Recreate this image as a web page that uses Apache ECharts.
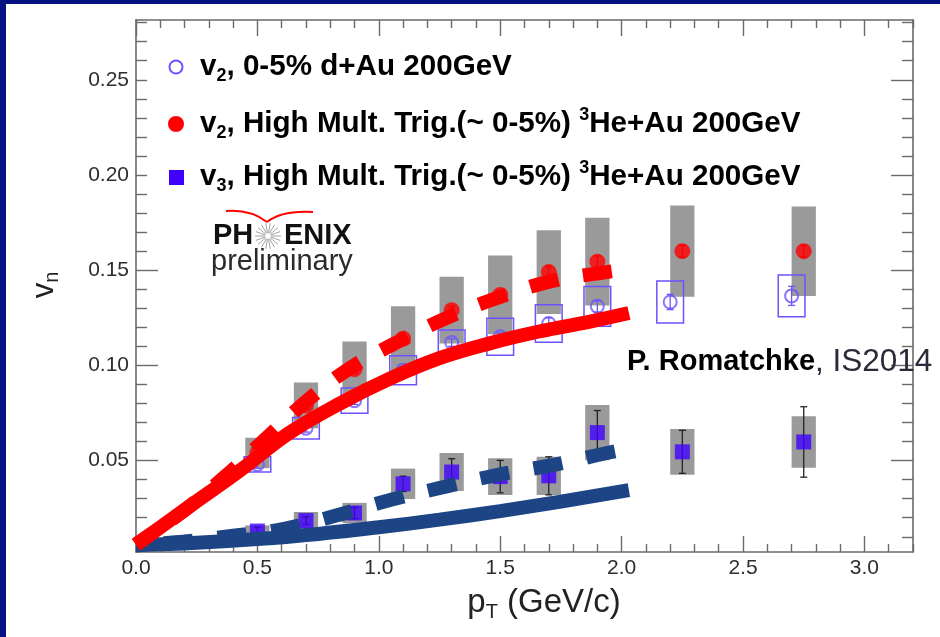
<!DOCTYPE html>
<html>
<head>
<meta charset="utf-8">
<script src="https://cdn.jsdelivr.net/npm/echarts@6/dist/echarts.min.js"></script>
<style>
  html, body { margin: 0; padding: 0; background: #ffffff; }
  #chart { position: absolute; left: 0; top: 0; width: 940px; height: 637px; }
  .edge { position: absolute; background: #061182; }
</style>
</head>
<body>
<div id="chart"></div>
<div class="edge" style="left:0;top:0;width:6px;height:637px"></div>
<div class="edge" style="left:0;top:0;width:940px;height:4px"></div>
<script>
// ---- measured flow coefficients ----
// d+Au 0-5%, v2
const ptDAu     = [0.5, 0.7, 0.9, 1.1, 1.3, 1.5, 1.7, 1.9, 2.2, 2.7];
const v2DAu     = [0.048, 0.067, 0.0815, 0.0975, 0.112, 0.115, 0.122, 0.131, 0.1333, 0.1365];
const v2DAuStat = [0.002, 0.002, 0.002, 0.002, 0.002, 0.002, 0.003, 0.003, 0.004, 0.005];
const v2DAuSys  = [0.004, 0.0057, 0.0066, 0.0076, 0.0066, 0.0097, 0.0098, 0.0105, 0.011, 0.011];

// 3He+Au high multiplicity trigger
const ptHeAu     = [0.5, 0.7, 0.9, 1.1, 1.3, 1.5, 1.7, 1.9, 2.25, 2.75];
const v2HeAu     = [0.054, 0.079, 0.098, 0.114, 0.129, 0.137, 0.149, 0.1545, 0.160, 0.160];
const v2HeAuStat = [0.002, 0.002, 0.002, 0.002, 0.002, 0.002, 0.003, 0.003, 0.003, 0.003];
const v2HeAuSys  = [0.008, 0.012, 0.0145, 0.017, 0.0175, 0.0207, 0.022, 0.023, 0.024, 0.0235];
const v3HeAu     = [0.013, 0.0185, 0.0225, 0.0378, 0.044, 0.0416, 0.042, 0.0647, 0.0546, 0.0598];
const v3HeAuStat = [0.002, 0.002, 0.003, 0.004, 0.007, 0.0085, 0.010, 0.0116, 0.0113, 0.0185];
const v3HeAuSys  = [0.003, 0.0045, 0.0053, 0.008, 0.010, 0.0097, 0.010, 0.0145, 0.012, 0.0135];

// ---- hydrodynamic calculations ----
const v2CalcAPt = [0, 0.22, 0.43, 0.63, 0.84, 1.05, 1.25, 1.46, 1.66, 1.87, 2.03];
const v2CalcA   = [0.0058, 0.0259, 0.045, 0.0644, 0.080, 0.0933, 0.1038, 0.1117, 0.1178, 0.123, 0.1275];
const v2CalcBPt = [0, 0.2, 0.37, 0.53, 0.7, 0.88, 1.08, 1.28, 1.5, 1.72, 1.94, 2.0];
const v2CalcB   = [0.006, 0.024, 0.042, 0.061, 0.081, 0.0985, 0.1125, 0.125, 0.136, 0.1445, 0.149, 0.150];
const v3CalcAPt = [0, 0.25, 0.5, 0.75, 1.0, 1.25, 1.5, 1.75, 2.03];
const v3CalcA   = [0.0055, 0.0068, 0.0088, 0.0115, 0.015, 0.019, 0.0235, 0.0285, 0.0345];
const v3CalcBPt = [0, 0.2, 0.4, 0.61, 0.835, 1.05, 1.27, 1.49, 1.72, 1.94, 2.0];
const v3CalcB   = [0.0055, 0.0075, 0.0105, 0.0142, 0.0215, 0.0294, 0.0362, 0.0425, 0.0478, 0.054, 0.0555];

// ---- axis ticks ----
const xTickLabels = [0, 0.5, 1.0, 1.5, 2.0, 2.5, 3.0];
const yTickLabels = [0.05, 0.10, 0.15, 0.20, 0.25];

const FONT = '"Liberation Sans", Arial, Helvetica, sans-serif';
const X_MIN = 0, X_MAX = 3.2, Y_MIN = 0.002, Y_MAX = 0.2814;

function steps(from, to, step) {
  const out = [];
  for (let i = Math.round(from / step); i * step <= to + 1e-9; i++) out.push(Math.round(i * step * 1000) / 1000);
  return out;
}
const near = (list) => (v) => list.some((t) => Math.abs(t - v) < 1e-6);
const xMinor = steps(0, 3.2, 0.1).filter((v) => !near(xTickLabels)(v));
const yAll = steps(0.01, 0.28, 0.01);
const yMinor = yAll.filter((v) => !near(yTickLabels)(v));
const yLeftLong = [0.05, 0.10, 0.15];
const yLeftShort = yAll.filter((v) => !near(yLeftLong)(v));

const lineCol = '#6a6a6a';
const tickStyle = { color: lineCol, width: 1.4 };

function xAxisDef(position, ticks, len, withLine, withLabels) {
  return {
    type: 'value', gridIndex: 0, position, min: X_MIN, max: X_MAX,
    axisLine: { show: withLine, onZero: false, lineStyle: { color: lineCol, width: 1.6 } },
    axisTick: { show: true, inside: true, length: len, customValues: ticks, lineStyle: tickStyle },
    axisLabel: withLabels
      ? { show: true, customValues: xTickLabels, formatter: (v) => v.toFixed(1), margin: 6,
          fontSize: 21, fontFamily: FONT, color: '#2e2e2e' }
      : { show: false },
    splitLine: { show: false }, minorTick: { show: false }
  };
}
function yAxisDef(position, ticks, len, withLine, withLabels) {
  return {
    type: 'value', gridIndex: 0, position, min: Y_MIN, max: Y_MAX,
    axisLine: { show: withLine, onZero: false, lineStyle: { color: lineCol, width: 1.6 } },
    axisTick: { show: true, inside: true, length: len, customValues: ticks, lineStyle: tickStyle },
    axisLabel: withLabels
      ? { show: true, customValues: yTickLabels, formatter: (v) => v.toFixed(2), margin: 7,
          fontSize: 21, fontFamily: FONT, color: '#2e2e2e' }
      : { show: false },
    splitLine: { show: false }, minorTick: { show: false }
  };
}

const zip = (xs, ...cols) => xs.map((x, i) => [x, ...cols.map((c) => c[i])]);

// systematic-uncertainty box around each point
function boxItem(halfWidth, style) {
  return function (params, api) {
    const p = api.value(0), v = api.value(1), s = api.value(2);
    const a = api.coord([p - halfWidth, v + s]);
    const b = api.coord([p + halfWidth, v - s]);
    return { type: 'rect', shape: { x: a[0], y: a[1], width: b[0] - a[0], height: b[1] - a[1] },
             style: Object.assign({}, style) };
  };
}
// statistical error bar with small caps
function errItem(color) {
  return function (params, api) {
    const p = api.value(0), v = api.value(1), e = api.value(2);
    const hi = api.coord([p, v + e]);
    const lo = api.coord([p, v - e]);
    const st = { stroke: color, lineWidth: 1.3 };
    return { type: 'group', children: [
      { type: 'line', shape: { x1: hi[0], y1: hi[1], x2: lo[0], y2: lo[1] }, style: st },
      { type: 'line', shape: { x1: hi[0] - 3.5, y1: hi[1], x2: hi[0] + 3.5, y2: hi[1] }, style: st },
      { type: 'line', shape: { x1: lo[0] - 3.5, y1: lo[1], x2: lo[0] + 3.5, y2: lo[1] }, style: st }
    ] };
  };
}

const RED = '#ff0000', NAVY = '#1d4585', VIOLET = '#4000ff', OPEN = '#6b52ff', GREY = '#9a9a9a';

function curve(pts, vals, color, dash, offset, z) {
  return {
    type: 'line', data: zip(pts, vals), smooth: 0.4, showSymbol: false, symbol: 'none',
    z, silent: true, clip: true,
    lineStyle: { color, width: 14, type: dash || 'solid', dashOffset: offset || 0, cap: 'butt' }
  };
}

// rich-text helpers
const rs = (size, weight, extra) => Object.assign({ fontSize: size, fontFamily: FONT, fontWeight: weight, fill: '#000' }, extra || {});
const legendRich = {
  t: rs(29.6, 'bold', { lineHeight: 36 }),
  s: rs(18, 'bold', { lineHeight: 18, verticalAlign: 'bottom' }),
  p: rs(18, 'bold', { lineHeight: 18, verticalAlign: 'top' })
};
function legendRow(y, text) {
  return { type: 'text', x: 200, y, z: 50, style: { text, rich: legendRich, align: 'left', verticalAlign: 'middle' } };
}

const star = [];
for (let k = 0; k < 18; k++) {
  const a = k * Math.PI / 9;
  star.push({ type: 'line', shape: { x1: 268 + 3 * Math.cos(a), y1: 236 + 3 * Math.sin(a),
                                      x2: 268 + 13 * Math.cos(a), y2: 236 + 13 * Math.sin(a) },
              style: { stroke: '#a0a0a0', lineWidth: 1 } });
}

const option = {
  backgroundColor: '#ffffff',
  animation: false,
  grid: { left: 136, top: 20, width: 777, height: 532, containLabel: false },
  xAxis: [
    xAxisDef('bottom', xTickLabels, 16, true, true),
    xAxisDef('bottom', xMinor, 8, false, false),
    xAxisDef('top', xTickLabels, 16, true, false),
    xAxisDef('top', xMinor, 8, false, false)
  ],
  yAxis: [
    yAxisDef('left', yLeftLong, 22, true, true),
    yAxisDef('left', yLeftShort, 11, false, false),
    yAxisDef('right', yTickLabels, 22, true, false),
    yAxisDef('right', yMinor, 11, false, false)
  ],
  series: [
    { type: 'custom', z: 1, silent: true, renderItem: boxItem(0.05, { fill: GREY }), data: zip(ptHeAu, v2HeAu, v2HeAuSys) },
    { type: 'custom', z: 1, silent: true, renderItem: boxItem(0.05, { fill: GREY }), data: zip(ptHeAu, v3HeAu, v3HeAuSys) },
    { type: 'custom', z: 2, silent: true, renderItem: boxItem(0.055, { fill: 'none', stroke: OPEN, lineWidth: 1.5 }), data: zip(ptDAu, v2DAu, v2DAuSys) },
    { type: 'custom', z: 3, silent: true, renderItem: errItem(OPEN), data: zip(ptDAu, v2DAu, v2DAuStat) },
    { type: 'custom', z: 3, silent: true, renderItem: errItem('#222222'), data: zip(ptHeAu, v3HeAu, v3HeAuStat) },
    { type: 'custom', z: 3, silent: true, renderItem: errItem(RED), data: zip(ptHeAu, v2HeAu, v2HeAuStat) },
    { type: 'scatter', z: 4, silent: true, symbol: 'circle', symbolSize: 13, data: zip(ptDAu, v2DAu),
      itemStyle: { color: 'rgba(0,0,0,0)', borderColor: OPEN, borderWidth: 2 } },
    { type: 'scatter', z: 4, silent: true, symbol: 'circle', symbolSize: 16, data: zip(ptHeAu, v2HeAu),
      itemStyle: { color: RED } },
    { type: 'scatter', z: 4, silent: true, symbol: 'rect', symbolSize: 15, data: zip(ptHeAu, v3HeAu),
      itemStyle: { color: VIOLET } },
    curve(v3CalcAPt, v3CalcA, NAVY, null, 0, 5),
    curve(v3CalcBPt, v3CalcB, NAVY, [29, 25], 26, 5),
    curve(v2CalcAPt, v2CalcA, RED, null, 0, 6),
    curve(v2CalcBPt, v2CalcB, RED, [29, 25], 10, 6)
  ],
  graphic: { elements: [
    // legend
    { type: 'circle', z: 50, shape: { cx: 176, cy: 67, r: 6.5 }, style: { fill: 'none', stroke: OPEN, lineWidth: 2 } },
    legendRow(67, '{t|v}{s|2}{t|, 0-5% d+Au 200GeV}'),
    { type: 'circle', z: 50, shape: { cx: 176, cy: 124, r: 8 }, style: { fill: RED } },
    legendRow(124, '{t|v}{s|2}{t|, High Mult. Trig.(~ 0-5%) }{p|3}{t|He+Au 200GeV}'),
    { type: 'rect', z: 50, shape: { x: 169, y: 170, width: 15, height: 15 }, style: { fill: VIOLET } },
    legendRow(177, '{t|v}{s|3}{t|, High Mult. Trig.(~ 0-5%) }{p|3}{t|He+Au 200GeV}'),
    // collaboration mark
    { type: 'bezierCurve', z: 50, shape: { x1: 226, y1: 211, x2: 267, y2: 222, cpx1: 250, cpy1: 209 }, style: { stroke: RED, lineWidth: 2, fill: 'none' } },
    { type: 'bezierCurve', z: 50, shape: { x1: 267, y1: 222, x2: 313, y2: 212, cpx1: 282, cpy1: 210 }, style: { stroke: RED, lineWidth: 2, fill: 'none' } },
    { type: 'text', z: 50, x: 213, y: 236, style: { text: 'PH', fontSize: 29, fontWeight: 'bold', fontFamily: FONT, fill: '#111', verticalAlign: 'middle' } },
    { type: 'group', z: 50, children: star },
    { type: 'text', z: 50, x: 284, y: 236, style: { text: 'ENIX', fontSize: 29, fontWeight: 'bold', fontFamily: FONT, fill: '#111', verticalAlign: 'middle' } },
    { type: 'text', z: 50, x: 211, y: 262, style: { text: 'preliminary', fontSize: 29, fontWeight: 'normal', fontFamily: FONT, fill: '#2a2a2a', verticalAlign: 'middle' } },
    // calculation credit
    { type: 'text', z: 50, x: 627, y: 362, style: {
        text: '{b|P. Romatchke}{n|, IS2014}', verticalAlign: 'middle',
        rich: { b: rs(29, 'bold', { fill: '#000' }), n: rs(31.5, 'normal', { fill: '#2a2a3a' }) } } },
    // axis titles
    { type: 'text', z: 50, x: 544, y: 603, style: {
        text: '{t|p}{s|T}{t| (GeV/c)}', align: 'center', verticalAlign: 'middle',
        rich: { t: rs(33, 'normal', { fill: '#222', lineHeight: 38 }),
                s: rs(20, 'normal', { fill: '#222', lineHeight: 19, verticalAlign: 'bottom' }) } } },
    { type: 'text', z: 50, x: 44, y: 285, rotation: Math.PI / 2, style: {
        text: '{t|v}{s|n}', align: 'center', verticalAlign: 'middle',
        rich: { t: rs(31, 'normal', { fill: '#222', lineHeight: 36 }),
                s: rs(20, 'normal', { fill: '#222', lineHeight: 18, verticalAlign: 'bottom' }) } } }
  ] }
};

const chart = echarts.init(document.getElementById('chart'), null, { renderer: 'canvas' });
chart.setOption(option);
</script>
</body>
</html>
